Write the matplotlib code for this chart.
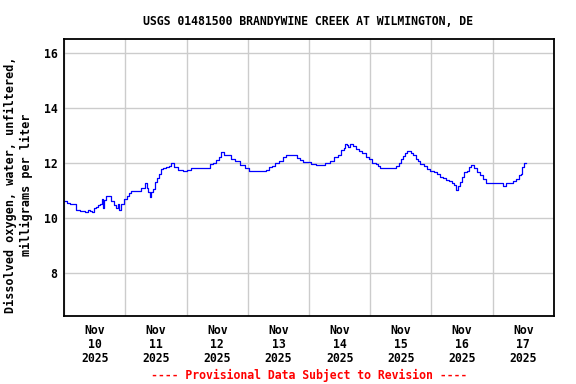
import matplotlib
matplotlib.use('Agg')
import matplotlib.pyplot as plt
import matplotlib.dates as mdates
import numpy as np
import pandas as pd

plt.rcParams["font.family"] = ["DejaVu Sans Mono"]
plt.rcParams["font.weight"] = "bold"

# hours since 2025-11-10 00:00 and dissolved oxygen (mg/L)
hours = [0.0, 1.1, 2.2, 4.2, 4.6, 6.2, 8.1, 9.3, 10.1, 10.9, 11.6, 12.4, 13.2, 14.0, 14.8,
         15.2, 15.6, 16.4, 17.5, 18.3, 19.5, 20.3, 21.1, 21.4, 22.2, 23.4, 24.6, 25.4, 26.1,
         29.3, 30.1, 31.2, 31.6, 32.4, 32.8, 33.6, 34.0, 34.8, 35.6, 36.3, 37.1, 37.9, 38.7,
         39.9, 41.0, 41.8, 43.0, 44.6, 46.5, 48.1, 49.7, 51.2, 52.4, 54.4, 55.9, 57.1, 58.3,
         59.5, 60.6, 61.4, 62.6, 64.2, 65.4, 66.9, 68.9, 70.8, 72.4, 74.8, 77.5, 79.1, 80.3,
         81.4, 82.6, 84.2, 85.7, 86.9, 88.5, 90.0, 91.2, 92.4, 93.6, 95.5, 96.7, 98.7, 101.0,
         102.2, 104.2, 105.7, 107.3, 108.5, 109.7, 110.1, 110.9, 111.3, 112.1, 113.2, 114.4,
         115.6, 116.8, 118.3, 119.5, 120.7, 122.2, 123.0, 123.8, 126.9, 129.3, 130.1, 131.2,
         132.0, 132.8, 133.6, 134.4, 135.2, 135.9, 136.7, 137.9, 138.7, 139.5, 141.0, 142.2,
         143.4, 145.0, 146.1, 147.3, 148.5, 149.6, 150.8, 152.0, 152.8, 153.8, 154.3, 155.1,
         155.9, 156.7, 157.9, 158.6, 159.4, 160.6, 161.8, 163.0, 164.2, 165.3, 166.9, 168.9,
         170.8, 172.0, 173.2, 174.7, 175.9, 177.1, 178.3, 179.0, 179.4, 180.2, 181.0]
do_mgl = [10.6, 10.55, 10.5, 10.5, 10.3, 10.25, 10.22, 10.3, 10.25, 10.22, 10.35, 10.4, 10.45,
          10.5, 10.7, 10.35, 10.65, 10.8, 10.8, 10.6, 10.45, 10.35, 10.5, 10.3, 10.5, 10.7,
          10.8, 10.9, 10.98, 10.98, 11.07, 11.1, 11.27, 11.1, 10.95, 10.75, 10.95, 11.05, 11.3,
          11.45, 11.6, 11.76, 11.8, 11.85, 11.9, 12.0, 11.85, 11.75, 11.72, 11.75, 11.8, 11.8,
          11.8, 11.82, 11.82, 11.95, 12.0, 12.1, 12.2, 12.38, 12.3, 12.28, 12.13, 12.05, 11.93,
          11.82, 11.7, 11.7, 11.7, 11.75, 11.85, 11.9, 12.0, 12.05, 12.2, 12.28, 12.3, 12.28,
          12.16, 12.12, 12.04, 12.02, 11.95, 11.92, 11.92, 12.0, 12.05, 12.2, 12.3, 12.45, 12.55,
          12.7, 12.65, 12.56, 12.7, 12.6, 12.5, 12.42, 12.34, 12.2, 12.13, 12.0, 11.95, 11.88,
          11.8, 11.8, 11.8, 11.9, 12.0, 12.15, 12.25, 12.35, 12.43, 12.43, 12.35, 12.28, 12.15,
          12.08, 11.95, 11.88, 11.78, 11.7, 11.65, 11.6, 11.5, 11.45, 11.38, 11.33, 11.25, 11.2,
          11.0, 11.15, 11.3, 11.5, 11.65, 11.7, 11.85, 11.92, 11.8, 11.65, 11.55, 11.4, 11.28,
          11.27, 11.27, 11.25, 11.15, 11.25, 11.25, 11.35, 11.4, 11.55, 11.6, 11.85, 12.0, 12.0]

start = pd.Timestamp('2025-11-10')
times = start + pd.to_timedelta(hours, unit='h')

fig = plt.figure(figsize=(5.76, 3.84), dpi=100)
ax = fig.add_axes([0.1116, 0.178, 0.850, 0.720])
ax.plot(times, do_mgl, color='#0000ff', linewidth=0.9, drawstyle='steps-post')

ax.set_xlim(start, start + pd.Timedelta(days=8))
ax.set_ylim(6.44, 16.5)

# day boundaries -> grid, noon -> labels
ax.xaxis.set_minor_locator(mdates.DayLocator())
ax.xaxis.set_major_locator(mdates.HourLocator(byhour=[12]))
ax.xaxis.set_major_formatter(mdates.DateFormatter('%b\n%d\n%Y'))
ax.set_yticks([8, 10, 12, 14, 16])
ax.grid(True, which='minor', axis='x', color='#cccccc', linewidth=1)
ax.grid(True, which='major', axis='y', color='#cccccc', linewidth=1)
ax.tick_params(axis='both', which='both', length=0, labelsize=8.3)
ax.tick_params(axis='y', pad=5)
ax.tick_params(axis='x', pad=6)
for lab in ax.get_xticklabels():
    lab.set_fontweight('bold')
    lab.set_linespacing(1.1)
for lab in ax.get_yticklabels():
    lab.set_fontweight('bold')
for s in ax.spines.values():
    s.set_linewidth(1.3)

fig.text(0.032, 0.518, 'Dissolved oxygen, water, unfiltered,\nmilligrams per liter',
         rotation=90, ha='center', va='center', fontsize=8.5, fontweight='bold',
         linespacing=1.3, multialignment='center')
fig.text(0.535, 0.945, 'USGS 01481500 BRANDYWINE CREEK AT WILMINGTON, DE',
         ha='center', va='center', fontsize=8.3, fontweight='bold')
fig.text(0.536, 0.023, '---- Provisional Data Subject to Revision ----',
         ha='center', va='center', fontsize=8.3, fontweight='bold', color='red')

fig.savefig('out.png', dpi=100)
